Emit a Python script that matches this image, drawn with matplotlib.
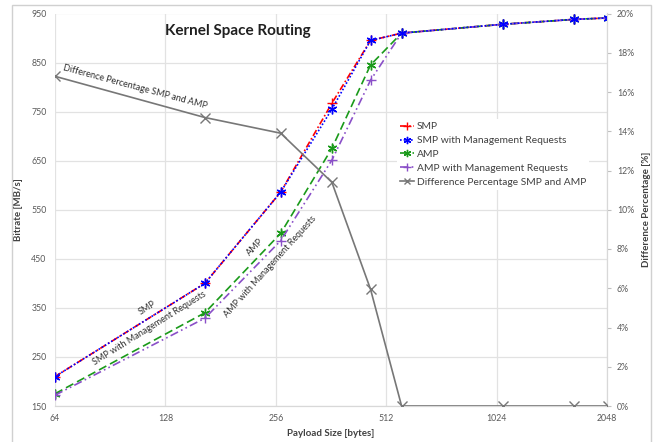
import numpy as np
import matplotlib.pyplot as plt

plt.rcParams['font.family'] = ['Lato', 'DejaVu Sans']

# payload sizes (bytes); last point lies just past the axis end
payload = [64, 164, 264, 364, 464, 564, 1064, 1664, 2064]

smp = [210, 400, 586, 767, 895, 910, 928, 938, 941]
smp_mgmt = [210, 400, 586, 755, 895, 910, 928, 938, 941]
amp = [175, 340, 502, 675, 845, 910, 928, 938, 941]
amp_mgmt = [172, 329, 487, 651, 814, 910, 928, 938, 941]
diff_pct = [16.8, 14.7, 13.9, 11.4, 5.95, 0, 0, 0, 0]

xticks = [64, 128, 256, 512, 1024, 2048]
left_ticks = [150, 250, 350, 450, 550, 650, 750, 850, 950]
right_ticks = list(range(0, 21, 2))

fig = plt.figure(figsize=(6.57, 4.42), dpi=100)
# outer chart frame
fig.patches.append(plt.Rectangle((12 / 657, -0.1), (651 - 12) / 657, 1.1 - 5 / 442,
                                 transform=fig.transFigure, fill=False,
                                 edgecolor='#d0d0d0', linewidth=1.0))

ax = fig.add_axes([55 / 657, 1 - 406 / 442, (607 - 55) / 657, (406 - 13.5) / 442])
ax2 = ax.twinx()

ax.set_xscale('log', base=2)
ax.set_xlim(64, 2048)
ax.set_ylim(150, 950)
ax2.set_ylim(0, 20)

ax.set_xticks(xticks)
ax.set_xticklabels([str(v) for v in xticks])
ax.minorticks_off()
ax.set_yticks(left_ticks)
ax2.set_yticks(right_ticks)
ax2.set_yticklabels([f"{v}%" for v in right_ticks])

ax.grid(True, color='#e2e2e2', linewidth=0.9)
ax.set_axisbelow(True)

for a in (ax, ax2):
    for s in a.spines.values():
        s.set_color('#d8d8d8')
ax.spines['left'].set_visible(False)
ax.spines['top'].set_visible(False)
ax2.spines['left'].set_visible(False)
ax2.spines['top'].set_visible(False)

ax.tick_params(axis='both', length=0, labelsize=6.3, colors='#595959', pad=6)
ax2.tick_params(axis='y', length=3, color='#c0c0c0', labelsize=6.3,
                labelcolor='#595959', pad=4)

l1, = ax.plot(payload, smp, color='red', linestyle=(0, (4, 1.5, 1, 1.5)),
              linewidth=1.2, marker='+', markersize=7, label='SMP', zorder=4)
l2, = ax.plot(payload, smp_mgmt, color='blue', linestyle=(0, (1, 1.2)),
              linewidth=1.2, marker=(6, 2, 0), markersize=7,
              label='SMP with Management Requests', zorder=5)
l3, = ax.plot(payload, amp, color='#1a9a1a', linestyle=(0, (5, 2.5)),
              linewidth=1.2, marker=(6, 2, 0), markersize=7, label='AMP', zorder=4)
l4, = ax.plot(payload, amp_mgmt, color='#8a4fc8', linestyle=(0, (5, 2, 1, 2, 1, 2)),
              linewidth=1.2, marker='+', markersize=7,
              label='AMP with Management Requests', zorder=4)
l5, = ax2.plot(payload, diff_pct, color='#777777', linewidth=1.2,
               marker='x', markersize=6.5, label='Difference Percentage SMP and AMP',
               zorder=3)

ax.set_xlabel('Payload Size [bytes]', fontsize=7, fontweight='bold', color='#404040',
              labelpad=4)
ax.set_ylabel('Bitrate [MB/s]', fontsize=7, fontweight='bold', color='#404040',
              labelpad=6)
ax2.set_ylabel('Difference Percentage [%]', fontsize=7, fontweight='bold',
               color='#404040', labelpad=6)

fig.text(238 / 657, 1 - 31 / 442, 'Kernel Space Routing', fontsize=11,
         fontweight='bold', ha='center', va='center', color='#202020')

lab = dict(fontsize=6.5, color='#303030', ha='center', va='center',
           rotation_mode='anchor')
ax.text(106, 800, 'Difference Percentage SMP and AMP', rotation=-15, **lab)
ax.text(114, 350, 'SMP', rotation=32, **lab)
ax.text(116, 308, 'SMP with Management Requests', rotation=32, **lab)
ax.text(225, 474, 'AMP', rotation=46, **lab)
ax.text(247, 435, 'AMP with Management Requests', rotation=48, **lab)

leg = ax2.legend(handles=[l1, l2, l3, l4, l5], loc='upper left',
                 bbox_to_anchor=(392 / 657, 1 - 114 / 442),
                 bbox_transform=fig.transFigure, fontsize=7.4, frameon=True,
                 handlelength=1.3, handletextpad=0.3, labelspacing=0.45,
                 borderpad=0.3, markerscale=0.75)
leg.get_frame().set_facecolor('white')
leg.get_frame().set_edgecolor('none')
leg.get_frame().set_alpha(1.0)
for t in leg.get_texts():
    t.set_color('#404040')

fig.savefig('out.png', dpi=100)
